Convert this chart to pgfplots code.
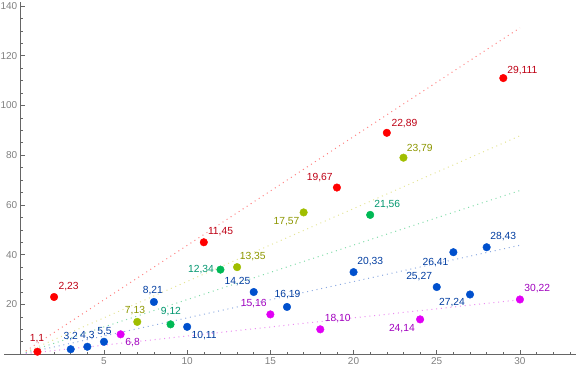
\documentclass[border=0pt]{standalone}
\usepackage{pgfplots}
\pgfplotsset{compat=1.18}
\usepackage{fontspec}
\setmainfont{Liberation Sans}
\definecolor{pr}{RGB}{255,0,0}
\definecolor{lr}{RGB}{190,0,20}
\definecolor{ln-r}{RGB}{255,130,130}
\definecolor{po}{RGB}{160,190,0}
\definecolor{lo}{RGB}{140,150,0}
\definecolor{ln-o}{RGB}{228,228,150}
\definecolor{pg}{RGB}{0,185,85}
\definecolor{lg}{RGB}{0,150,110}
\definecolor{ln-g}{RGB}{130,220,170}
\definecolor{pb}{RGB}{0,80,205}
\definecolor{lb}{RGB}{0,60,160}
\definecolor{ln-b}{RGB}{140,170,225}
\definecolor{pm}{RGB}{225,0,245}
\definecolor{lm}{RGB}{160,0,190}
\definecolor{ln-m}{RGB}{235,140,240}
\begin{document}
\begin{tikzpicture}
\begin{axis}[
  name=a,
  x=16.64pt, y=2.488pt,
  xmin=-1, xmax=33.37, ymin=0, ymax=141.5,
  axis lines=middle,
  axis line style={-, draw=black!60, line width=0.6pt},
  xtick={5,10,...,30}, ytick={20,40,...,140},
  minor xtick={1,...,33}, minor ytick={5,10,...,140},
  tick align=inside,
  major tick length=4pt, minor tick length=2.5pt,
  tick style={black!60, line width=0.6pt},
  ticklabel style={font=\fontsize{10}{12}\selectfont, text=black!50},
  /pgf/number format/assume math mode=true,
  clip=false,
]
\addplot[ln-r, line width=1pt, dash pattern=on 1pt off 3.8pt] coordinates {(0.3,1.31) (30,131.2)};
\addplot[ln-o, line width=1pt, dash pattern=on 1pt off 3.8pt] coordinates {(0.3,0.88) (30,87.8)};
\addplot[ln-g, line width=1pt, dash pattern=on 1pt off 3.8pt] coordinates {(0.3,0.66) (30,65.8)};
\addplot[ln-b, line width=1pt, dash pattern=on 1pt off 3.8pt] coordinates {(0.3,0.44) (30,43.8)};
\addplot[ln-m, line width=1pt, dash pattern=on 1pt off 3.8pt] coordinates {(0.3,0.22) (30,21.9)};
\addplot[only marks, mark=*, mark size=3.8pt, mark options={draw=pr, fill=pr}] coordinates {(1,1) (2,23) (11,45) (19,67) (22,89) (29,111)};
\addplot[only marks, mark=*, mark size=3.8pt, mark options={draw=po, fill=po}] coordinates {(7,13) (13,35) (17,57) (23,79)};
\addplot[only marks, mark=*, mark size=3.8pt, mark options={draw=pg, fill=pg}] coordinates {(9,12) (12,34) (21,56)};
\addplot[only marks, mark=*, mark size=3.8pt, mark options={draw=pb, fill=pb}] coordinates {(3,2) (4,3) (5,5) (8,21) (10,11) (14,25) (16,19) (20,33) (25,27) (26,41) (27,24) (28,43)};
\addplot[only marks, mark=*, mark size=3.8pt, mark options={draw=pm, fill=pm}] coordinates {(6,8) (15,16) (18,10) (24,14) (30,22)};
\tikzset{lab/.style={font=\fontsize{10.3}{12}\selectfont, inner sep=0pt}}
% red
\node[lab, text=lr, xshift=-0.4pt, yshift=13pt] at (axis cs:1,1) {1,1};
\node[lab, text=lr, xshift=14.5pt, yshift=10.2pt] at (axis cs:2,23) {2,23};
\node[lab, text=lr, xshift=16.7pt, yshift=10.6pt] at (axis cs:11,45) {11,45};
\node[lab, text=lr, xshift=-17.2pt, yshift=9.5pt] at (axis cs:19,67) {19,67};
\node[lab, text=lr, xshift=17.6pt, yshift=8.8pt] at (axis cs:22,89) {22,89};
\node[lab, text=lr, xshift=19pt, yshift=8pt] at (axis cs:29,111) {29,111};
% olive
\node[lab, text=lo, xshift=-2.3pt, yshift=11pt] at (axis cs:7,13) {7,13};
\node[lab, text=lo, xshift=15.7pt, yshift=10.8pt] at (axis cs:13,35) {13,35};
\node[lab, text=lo, xshift=-17.2pt, yshift=-9.5pt] at (axis cs:17,57) {17,57};
\node[lab, text=lo, xshift=16.3pt, yshift=9.5pt] at (axis cs:23,79) {23,79};
% green
\node[lab, text=lg, xshift=0.4pt, yshift=12.5pt] at (axis cs:9,12) {9,12};
\node[lab, text=lg, xshift=-19.5pt, yshift=0.5pt] at (axis cs:12,34) {12,34};
\node[lab, text=lg, xshift=17pt, yshift=10pt] at (axis cs:21,56) {21,56};
% blue
\node[lab, text=lb, xshift=0pt, yshift=12.6pt] at (axis cs:3,2) {3,2};
\node[lab, text=lb, xshift=0pt, yshift=11pt] at (axis cs:4,3) {4,3};
\node[lab, text=lb, xshift=0.5pt, yshift=10.3pt] at (axis cs:5,5) {5,5};
\node[lab, text=lb, xshift=-1pt, yshift=11.2pt] at (axis cs:8,21) {8,21};
\node[lab, text=lb, xshift=17pt, yshift=-9pt] at (axis cs:10,11) {10,11};
\node[lab, text=lb, xshift=-16.3pt, yshift=10.2pt] at (axis cs:14,25) {14,25};
\node[lab, text=lb, xshift=0.5pt, yshift=11.9pt] at (axis cs:16,19) {16,19};
\node[lab, text=lb, xshift=16.7pt, yshift=10.1pt] at (axis cs:20,33) {20,33};
\node[lab, text=lb, xshift=-17.6pt, yshift=10.1pt] at (axis cs:25,27) {25,27};
\node[lab, text=lb, xshift=-17.9pt, yshift=-10pt] at (axis cs:26,41) {26,41};
\node[lab, text=lb, xshift=-18pt, yshift=-8.3pt] at (axis cs:27,24) {27,24};
\node[lab, text=lb, xshift=16.6pt, yshift=10.7pt] at (axis cs:28,43) {28,43};
% magenta
\node[lab, text=lm, xshift=12pt, yshift=-8.2pt] at (axis cs:6,8) {6,8};
\node[lab, text=lm, xshift=-16.7pt, yshift=11.1pt] at (axis cs:15,16) {15,16};
\node[lab, text=lm, xshift=17.5pt, yshift=11.2pt] at (axis cs:18,10) {18,10};
\node[lab, text=lm, xshift=-18.2pt, yshift=-9.5pt] at (axis cs:24,14) {24,14};
\node[lab, text=lm, xshift=17.3pt, yshift=11.1pt] at (axis cs:30,22) {30,22};
\end{axis}
\pgfresetboundingbox
\path ([xshift=-4.16pt, yshift=-16.8pt]a.south west) rectangle ([yshift=2.2pt]a.north east);
\end{tikzpicture}
\end{document}
